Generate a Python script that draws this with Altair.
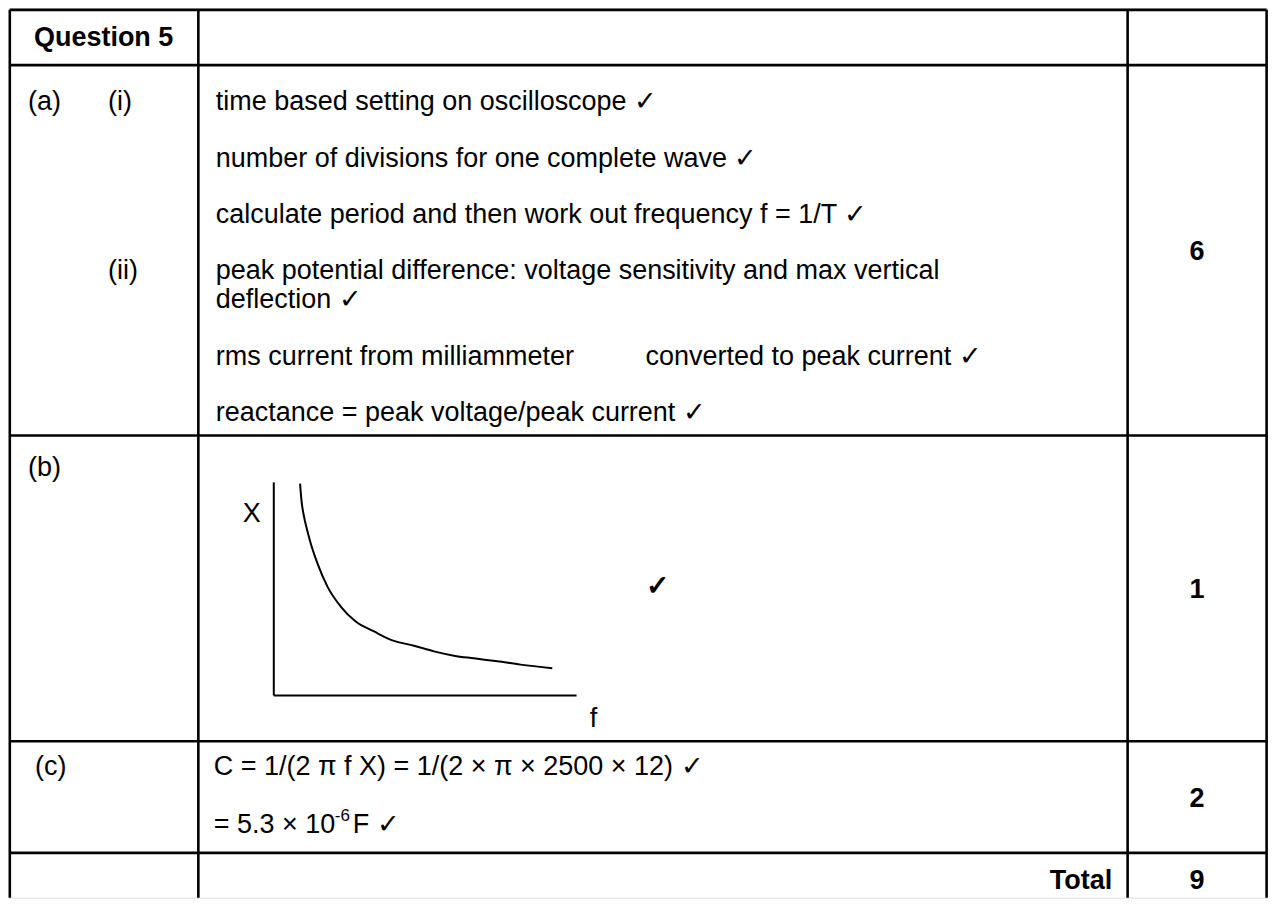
import altair as alt
import pandas as pd

# ---------------- content (values / texts) ----------------
header_text = ["Question 5"]
part_labels = ["(a)", "(i)", "(ii)", "(b)", "(c)"]
answer_lines = [
    "time based setting on oscilloscope \u2713",
    "number of divisions for one complete wave \u2713",
    "calculate period and then work out frequency f = 1/T \u2713",
    "peak potential difference: voltage sensitivity and max vertical",
    "deflection \u2713",
    "rms current from milliammeter",
    "converted to peak current  \u2713",
    "reactance = peak voltage/peak current \u2713",
    "C = 1/(2 \u03c0 f X) = 1/(2 \u00d7 \u03c0 \u00d7 2500 \u00d7 12) \u2713",
    "= 5.3 \u00d7 10",
    "F \u2713",
]
superscripts = ["-6"]
mark_values = ["6", "1", "2", "9"]
total_label = ["Total"]
graph_labels = ["X", "f"]
graph_tick = ["\u2713"]

# sketch of reactance X against frequency f
curve_f = [299.3, 300.7, 303.3, 306.0, 310.0, 316.7, 326.7, 340.0, 355.0,
           373.3, 391.7, 413.3, 433.3, 453.3, 473.3, 496.7, 520.0, 551.7]
curve_X = [483.3, 500.0, 516.7, 528.3, 543.3, 563.3, 586.7, 606.7, 621.7,
           631.7, 640.7, 646.0, 651.7, 656.0, 658.7, 661.7, 665.0, 668.7]

# ---------------- layout ----------------
h_lines_y = [7.5, 63, 435, 742, 854]
v_lines_x = [8.8, 197.5, 1127.5, 1266.6]
table_left, table_right, table_top, table_bottom = 8.8, 1266.6, 7.5, 899

header_pos = [(33, 44)]
label_pos = [(27, 108), (107, 108), (107, 278), (27, 476), (34, 776)]
answer_pos = [(215, 108), (215, 165), (215, 222), (215, 278), (215, 307),
              (215, 364), (645, 364), (215, 420), (213, 776), (213, 834),
              (352, 834)]
super_pos = [(334, 822)]
mark_pos = [(1197, 259), (1197, 598), (1197, 808), (1197, 890)]
total_pos = [(1112, 890)]
glabel_pos = [(251, 522), (593, 728)]
gtick_pos = [(657, 595)]
graph_axes = [  # x, y, x2, y2
    (273, 482, 273, 696),
    (273, 696, 576, 696),
]

FONT = "Liberation Sans"
FS = 27

xs = alt.Scale(domain=[8, 1268], nice=False, zero=False)
ys = alt.Scale(domain=[6, 899], nice=False, zero=False, reverse=True)


def tdf(texts, pos):
    return pd.DataFrame({"text": texts,
                         "x": [p[0] for p in pos],
                         "y": [p[1] for p in pos]})


def text_layer(df, **kw):
    base = dict(font=FONT, fontSize=FS, color="black", baseline="alphabetic")
    base.update(kw)
    return alt.Chart(df).mark_text(**base).encode(
        x=alt.X("x:Q", scale=xs, axis=None),
        y=alt.Y("y:Q", scale=ys, axis=None),
        text="text:N",
    )


# table grid lines
h_df = pd.DataFrame({"x": [table_left] * len(h_lines_y), "x2": [table_right] * len(h_lines_y),
                     "y": h_lines_y, "y2": h_lines_y})
v_df = pd.DataFrame({"x": v_lines_x, "x2": v_lines_x,
                     "y": [table_top] * len(v_lines_x), "y2": [table_bottom] * len(v_lines_x)})
grid_df = pd.concat([h_df, v_df], ignore_index=True)

grid = alt.Chart(grid_df).mark_rule(color="black", strokeWidth=2.6).encode(
    x=alt.X("x:Q", scale=xs, axis=None), x2="x2:Q",
    y=alt.Y("y:Q", scale=ys, axis=None), y2="y2:Q",
)

ax_df = pd.DataFrame(graph_axes, columns=["x", "y", "x2", "y2"])
axes = alt.Chart(ax_df).mark_rule(color="black", strokeWidth=2).encode(
    x=alt.X("x:Q", scale=xs, axis=None), x2="x2:Q",
    y=alt.Y("y:Q", scale=ys, axis=None), y2="y2:Q",
)

curve_df = pd.DataFrame({"f": curve_f, "X": curve_X})
curve = alt.Chart(curve_df).mark_line(color="black", strokeWidth=2, interpolate="monotone").encode(
    x=alt.X("f:Q", scale=xs, axis=None),
    y=alt.Y("X:Q", scale=ys, axis=None),
    order="f:Q",
)

layers = [
    grid,
    axes,
    curve,
    text_layer(tdf(header_text, header_pos), align="left", fontWeight="bold"),
    text_layer(tdf(part_labels, label_pos), align="left"),
    text_layer(tdf(answer_lines, answer_pos), align="left"),
    text_layer(tdf(superscripts, super_pos), align="left", fontSize=17),
    text_layer(tdf(mark_values, mark_pos), align="center", fontWeight="bold"),
    text_layer(tdf(total_label, total_pos), align="right", fontWeight="bold"),
    text_layer(tdf(graph_labels, glabel_pos), align="center"),
    text_layer(tdf(graph_tick, gtick_pos), align="center", fontSize=28, fontWeight="bold"),
]

chart = alt.layer(*layers).properties(
    width=1260, height=890, padding=0
).configure_view(stroke=None).configure(background="white")

chart.save("out.html", embed_options={"renderer": "svg", "actions": False})
